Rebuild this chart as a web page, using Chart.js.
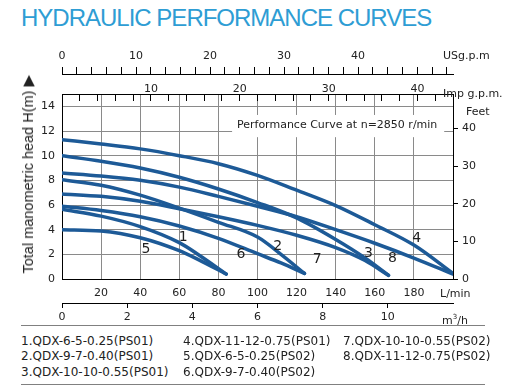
<!DOCTYPE html>
<html>
<head>
<meta charset="utf-8">
<script src="https://cdn.jsdelivr.net/npm/chart.js@4"></script>
<style>
  body { margin: 0; background: #fff; }
  #wrap { position: relative; width: 520px; height: 388px; overflow: hidden; font-family: "DejaVu Sans", sans-serif; color: #222; }
  .abs { position: absolute; white-space: nowrap; }
  .title { left: 21px; top: 4px; font-family: "Liberation Sans", Arial, sans-serif; font-size: 24px; letter-spacing: -1px; color: #2e9dd4; }
  .unit { font-size: 11px; line-height: 13px; }
  .ytitle { left: 28px; top: 174px; font-family: "Liberation Sans", Arial, sans-serif; font-size: 14.5px; transform: translate(-50%, -50%) rotate(-90deg); }
  .rule { left: 21px; width: 464px; height: 0; border-top: 1px solid #808080; }
  .leg { font-size: 12px; line-height: 15.5px; }
  #box { position: absolute; left: 0; top: 40px; width: 520px; height: 290px; }
</style>
</head>
<body>
<div id="wrap">
  <div class="abs title">HYDRAULIC PERFORMANCE CURVES</div>
  <div id="box"><canvas id="chart" width="520" height="290"></canvas></div>

  <div class="abs unit" style="left:443px;top:49px;">USg.p.m</div>
  <div class="abs unit" style="left:443px;top:87px;">Imp g.p.m.</div>
  <div class="abs unit" style="left:466px;top:105px;">Feet</div>
  <div class="abs unit" style="left:440px;top:287px;">L/min</div>
  <div class="abs unit" style="left:442px;top:311px;">m<sup style="font-size:7px">3</sup>/h</div>
  <div class="abs ytitle">Total manometric head H(m) &#9654;</div>

  <div class="abs rule" style="top:325px;"></div>
  <div class="abs leg" style="left:21px;top:333.5px;">1.QDX-6-5-0.25(PS01)<br>2.QDX-9-7-0.40(PS01)<br>3.QDX-10-10-0.55(PS01)</div>
  <div class="abs leg" style="left:183px;top:333.5px;">4.QDX-11-12-0.75(PS01)<br>5.QDX-6-5-0.25(PS02)<br>6.QDX-9-7-0.40(PS02)</div>
  <div class="abs leg" style="left:343px;top:333.5px;">7.QDX-10-10-0.55(PS02)<br>8.QDX-11-12-0.75(PS02)</div>
  <div class="abs rule" style="top:384px;"></div>
</div>

<script>
// flow in L/min, head in m
const flow1 = [0, 20, 40, 60, 70, 84];
const head1 = [5.65, 5.1, 4.25, 2.95, 1.95, 0.4];
const flow2 = [0, 20, 40, 60, 80, 100, 112, 124];
const head2 = [8.05, 7.6, 6.8, 5.75, 4.6, 3.4, 2.0, 0.45];
const flow3 = [0, 20, 40, 60, 80, 100, 120, 140, 155, 167];
const head3 = [10.0, 9.55, 9.0, 8.25, 7.3, 6.2, 4.95, 3.2, 1.7, 0.3];
const flow4 = [0, 20, 40, 60, 80, 100, 120, 140, 160, 180, 200];
const head4 = [11.3, 10.95, 10.55, 10.0, 9.35, 8.4, 7.2, 5.95, 4.4, 2.75, 0.45];
const flow5 = [0, 20, 40, 60, 70, 84];
const head5 = [4.0, 3.9, 3.35, 2.3, 1.55, 0.4];
const flow6 = [0, 20, 40, 60, 80, 100, 112, 124];
const head6 = [5.9, 5.55, 5.05, 4.3, 3.3, 2.05, 1.3, 0.45];
const flow7 = [0, 20, 40, 60, 80, 100, 120, 140, 155, 167];
const head7 = [6.9, 6.7, 6.3, 5.7, 5.05, 4.35, 3.55, 2.55, 1.5, 0.3];
const flow8 = [0, 20, 40, 60, 80, 100, 120, 140, 160, 180, 200];
const head8 = [8.6, 8.35, 8.0, 7.45, 6.7, 5.9, 5.05, 4.0, 2.9, 1.7, 0.4];

const models = ['QDX-6-5-0.25(PS01)', 'QDX-9-7-0.40(PS01)', 'QDX-10-10-0.55(PS01)', 'QDX-11-12-0.75(PS01)',
                'QDX-6-5-0.25(PS02)', 'QDX-9-7-0.40(PS02)', 'QDX-10-10-0.55(PS02)', 'QDX-11-12-0.75(PS02)'];
const flows = [flow1, flow2, flow3, flow4, flow5, flow6, flow7, flow8];
const heads = [head1, head2, head3, head4, head5, head6, head7, head8];

// curve number tags, placed in data units
const tagText = ['1', '2', '3', '4', '5', '6', '7', '8'];
const tagFlow = [62.0, 110.3, 156.7, 181.4, 43.0, 91.6, 130.6, 169.0];
const tagHead = [3.38, 2.62, 2.08, 3.30, 2.41, 2.0, 1.62, 1.68];

// axis ticks
const headTicks = [0, 2, 4, 6, 8, 10, 12, 14];
const feetTicks = [0, 10, 20, 30, 40];
const m3hTicks = [0, 2, 4, 6, 8, 10];
const usTicks = [0, 2, 4, 6, 8, 10, 12, 14, 16, 18, 20, 22, 24, 26, 28, 30, 32, 34, 36, 38, 40, 42, 44, 46, 48, 50, 52];
const impTicks = [0, 2, 4, 6, 8, 10, 12, 14, 16, 18, 20, 22, 24, 26, 28, 30, 32, 34, 36, 38, 40, 42];

const LMAX = 200, HMAX = 15;
const curveColor = '#1d5a97';
const gridColor = '#8a8a8a';

Chart.defaults.font.family = '"DejaVu Sans", sans-serif';
Chart.defaults.font.size = 11;
Chart.defaults.color = '#222';

const setTicks = arr => s => { s.ticks = arr.map(v => ({ value: v })); };

const extras = {
  id: 'extras',
  beforeDatasetsDraw(chart) {
    const { ctx, scales: { x, y } } = chart;
    ctx.save();
    ctx.fillStyle = '#fff';
    const x0 = x.getPixelForValue(87), x1 = x.getPixelForValue(195.5);
    const y0 = y.getPixelForValue(13.3), y1 = y.getPixelForValue(11.5);
    ctx.fillRect(x0, y0, x1 - x0, y1 - y0);
    ctx.fillStyle = '#222';
    ctx.font = '11px "DejaVu Sans"';
    ctx.textBaseline = 'middle';
    ctx.fillText('Performance Curve at n=2850 r/min', x.getPixelForValue(89.5), y.getPixelForValue(12.45));
    ctx.restore();
  },
  afterDatasetsDraw(chart) {
    const { ctx, scales: { x, y } } = chart;
    ctx.save();
    ctx.fillStyle = '#222';
    ctx.font = '14px "DejaVu Sans"';
    ctx.textAlign = 'center';
    ctx.textBaseline = 'middle';
    tagText.forEach((t, i) => ctx.fillText(t, x.getPixelForValue(tagFlow[i]), y.getPixelForValue(tagHead[i])));
    ctx.restore();
  }
};

new Chart(document.getElementById('chart'), {
  type: 'line',
  data: {
    datasets: models.map((m, i) => ({
      label: m,
      data: flows[i].map((f, j) => ({ x: f, y: heads[i][j] })),
      borderColor: curveColor,
      borderWidth: 3.5,
      pointRadius: 0,
      cubicInterpolationMode: 'monotone',
      borderCapStyle: 'round',
      xAxisID: 'x',
      yAxisID: 'y'
    }))
  },
  options: {
    responsive: false,
    animation: false,
    layout: { padding: 0 },
    plugins: { legend: { display: false }, tooltip: { enabled: false } },
    scales: {
      x: {
        type: 'linear', position: 'bottom', weight: 0, min: 0, max: LMAX,
        ticks: { stepSize: 20, padding: 8, autoSkip: false, maxRotation: 0,
                 callback: v => (v > 0 && v < LMAX) ? v : '' },
        grid: { color: gridColor, drawTicks: false },
        border: { color: '#000' },
        afterFit: s => { s.height = 24; }
      },
      xm3: {
        type: 'linear', position: 'bottom', weight: 1, min: 0, max: LMAX * 0.06,
        afterBuildTicks: setTicks(m3hTicks),
        ticks: { padding: 3, autoSkip: false, maxRotation: 0 },
        grid: { drawOnChartArea: false, tickLength: 5, color: '#000' },
        border: { color: '#000' },
        afterFit: s => { s.height = 27; }
      },
      ximp: {
        type: 'linear', position: 'top', weight: 0, min: 0, max: LMAX / 4.54609,
        afterBuildTicks: setTicks(impTicks),
        ticks: { padding: 5, autoSkip: false, maxRotation: 0,
                 callback: v => (v > 0 && v % 10 === 0) ? v : '' },
        grid: { drawOnChartArea: false, tickLength: -7, color: '#000' },
        border: { color: '#000' },
        afterFit: s => { s.height = 20; }
      },
      xus: {
        type: 'linear', position: 'top', weight: 1, min: 0, max: LMAX / 3.78541,
        afterBuildTicks: setTicks(usTicks),
        ticks: { padding: 4, autoSkip: false, maxRotation: 0,
                 callback: v => (v % 10 === 0 && v <= 40) ? v : '' },
        grid: { drawOnChartArea: false, tickLength: 7, color: '#000' },
        border: { color: '#000' },
        afterFit: s => { s.height = 34; }
      },
      y: {
        type: 'linear', position: 'left', min: 0, max: HMAX,
        afterBuildTicks: setTicks(headTicks),
        ticks: { padding: 7 },
        grid: { color: gridColor, drawTicks: false },
        border: { color: '#000' },
        afterFit: s => { s.width = 62; }
      },
      yft: {
        type: 'linear', position: 'right', min: 0, max: HMAX * 3.28084,
        afterBuildTicks: setTicks(feetTicks),
        ticks: { padding: 4 },
        grid: { drawOnChartArea: false, tickLength: 5, color: '#000' },
        border: { color: '#000' },
        afterFit: s => { s.width = 67; }
      }
    }
  },
  plugins: [extras]
});
</script>
</body>
</html>
